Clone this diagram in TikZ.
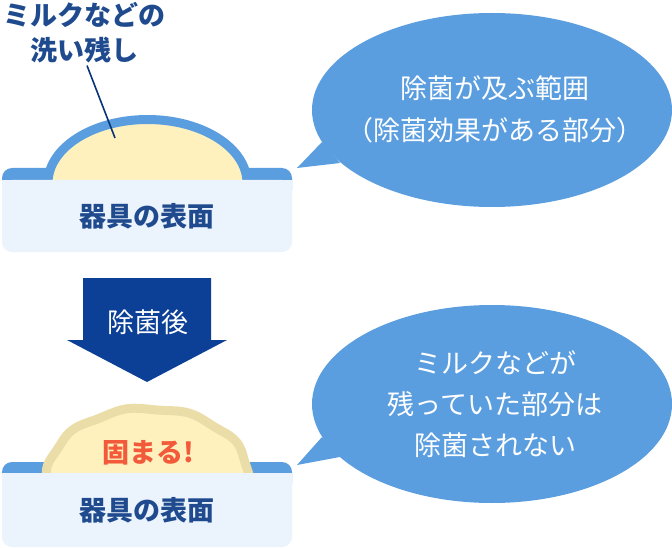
\documentclass[tikz,border=0pt]{standalone}
\usepackage{fontspec}
\setmainfont{Noto Sans CJK JP}
\usetikzlibrary{shapes.geometric}

\definecolor{bubbleblue}{HTML}{5B9EDF}
\definecolor{surfacefill}{HTML}{EBF3FD}
\definecolor{milkyellow}{HTML}{FEF1BE}
\definecolor{crustedge}{HTML}{EBDDA8}
\definecolor{navytext}{HTML}{1F4B8E}
\definecolor{arrowblue}{HTML}{0B4096}
\definecolor{alertred}{HTML}{F25A3A}

\begin{document}
\begin{tikzpicture}[x=1pt, y=-1pt,
    surface/.style={text=navytext, inner sep=0pt, font=\fontsize{27}{32}\selectfont\bfseries},
    bubbletext/.style={align=center, text=white, inner sep=0pt, font=\fontsize{27}{41}\selectfont},
    pointer/.style={draw=arrowblue!80!black, line width=1.6pt}]
    \useasboundingbox (0,0) rectangle (672,548);

    % Before: surface with milk residue
    \fill[bubbleblue, rounded corners=10pt] (2,168) rectangle (292,200);
    \draw[line width=9pt, draw=bubbleblue, fill=milkyellow] (48,183) arc[start angle=180, end angle=360, x radius=99.5, y radius=63.5];
    \fill[surfacefill, rounded corners=10pt] (2,180) rectangle (292,252);
    \fill[surfacefill] (2,180) rectangle (292,192);
    \node [surface] (surface1) at (147,216) {器具の表面};

    % Residue label
    \node [align=center, text=navytext, inner sep=2pt, font=\fontsize{27}{35}\selectfont\bfseries] (residue) at (85,33) {ミルクなどの\\洗い残し};
    \coordinate (milkspot) at (115,138);
    \draw[pointer] ([xshift=2pt]residue.south) -- (milkspot);

    % Bubble: reach of sterilisation
    \fill[bubbleblue] (492,110) ellipse [x radius=180, y radius=97];
    \coordinate (tip1) at (297,168);
    \fill[bubbleblue] (tip1) -- (322,142) -- (340,163) -- cycle;
    \node [bubbletext, font=\fontsize{27}{42}\selectfont] (reach) at (495,109) {除菌が及ぶ範囲\\（除菌効果がある部分）};

    % Arrow
    \fill[arrowblue] (83,278) -- (211,278) -- (211,340) -- (227,340) -- (147,382) -- (67,340) -- (83,340) -- cycle;
    \node [text=white, font=\fontsize{27}{32}\selectfont] (after) at (148,322) {除菌後};

    % After: surface with hardened residue
    \fill[bubbleblue, rounded corners=10pt] (2,462) rectangle (292,494);
    \draw[line width=9pt, draw=crustedge, fill=milkyellow] plot[smooth, domain=180:360, samples=61]
        ({148+100.5*cos(\x)*(1+0.014*sin(10*\x+30))}, {476+67.5*sin(\x)*(1+0.018*sin(10*\x+30))});
    \node [text=alertred, font=\fontsize{27}{32}\selectfont\bfseries] (hardened) at (148,453) {固まる!};
    \fill[surfacefill, rounded corners=10pt] (2,473) rectangle (292,547);
    \fill[surfacefill] (2,473) rectangle (292,485);
    \node [surface] (surface2) at (147,510) {器具の表面};

    % Bubble: residue not sterilised
    \fill[bubbleblue] (492,404) ellipse [x radius=180, y radius=99];
    \coordinate (tip2) at (297,465);
    \fill[bubbleblue] (tip2) -- (322,437) -- (340,457) -- cycle;
    \node [bubbletext] (missed) at (495,404) {ミルクなどが\\残っていた部分は\\除菌されない};
\end{tikzpicture}
\end{document}
